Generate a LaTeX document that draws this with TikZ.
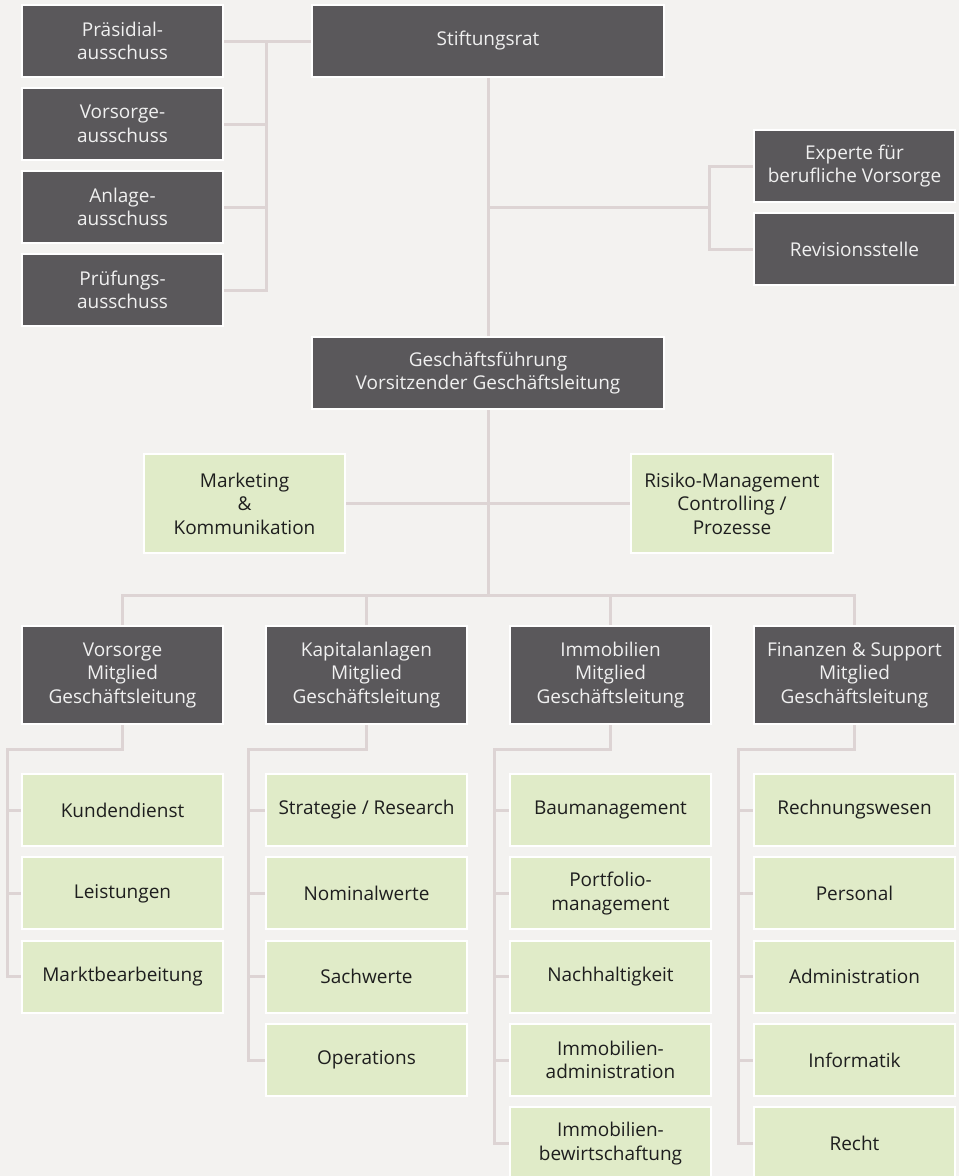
\documentclass[tikz,border=0pt]{standalone}
\usepackage{fontspec}
\setmainfont{Open Sans}
\usetikzlibrary{calc}
\definecolor{bgc}{HTML}{F3F2F0}
\definecolor{darkc}{HTML}{5A585B}
\definecolor{greenc}{HTML}{E0EBC8}
\definecolor{linec}{HTML}{DDD4D4}
\definecolor{darktext}{HTML}{F0F0F0}
\definecolor{greentext}{HTML}{1E1E1E}
\tikzset{
  box/.style={draw=white, line width=2pt, inner sep=0pt, align=center,
    font=\fontsize{19}{23.5}\selectfont, minimum width=201pt, minimum height=72pt},
  darkbox/.style={box, fill=darkc, text=darktext},
  greenbox/.style={box, fill=greenc, text=greentext},
  conn/.style={draw=linec, line width=3pt}
}
\begin{document}
\begin{tikzpicture}[x=1pt,y=-1pt]
\useasboundingbox (0,0) rectangle (959,1176);
\fill[bgc] (0,0) rectangle (959,1176);

% top left committees
\node[darkbox] (praes) at (122.5,41) {Präsidial-\\ausschuss};
\node[darkbox] (vors) at (122.5,124) {Vorsorge-\\ausschuss};
\node[darkbox] (anl) at (122.5,207) {Anlage-\\ausschuss};
\node[darkbox] (pruef) at (122.5,290) {Prüfungs-\\ausschuss};

\node[darkbox, minimum width=352pt] (stift) at (488,41) {Stiftungsrat};
\node[darkbox] (exp) at (854.5,166) {Experte für\\berufliche Vorsorge};
\node[darkbox] (rev) at (854.5,249) {Revisionsstelle};

\node[darkbox, minimum width=352pt] (gf) at (488,373) {Geschäftsführung\\Vorsitzender Geschäftsleitung};

\node[greenbox, minimum height=99pt] (mk) at (244.5,503.5) {Marketing\\\&\\Kommunikation};
\node[greenbox, minimum height=99pt, minimum width=202pt] (risk) at (732,503.5) {Risiko-Management\\Controlling /\\Prozesse};

% managers
\node[darkbox, minimum height=98pt] (m1) at (122.5,675) {Vorsorge\\Mitglied\\Geschäftsleitung};
\node[darkbox, minimum height=98pt] (m2) at (366.5,675) {Kapitalanlagen\\Mitglied\\Geschäftsleitung};
\node[darkbox, minimum height=98pt] (m3) at (610.5,675) {Immobilien\\Mitglied\\Geschäftsleitung};
\node[darkbox, minimum height=98pt] (m4) at (854.5,675) {Finanzen \& Support\\Mitglied\\Geschäftsleitung};

% column 1
\node[greenbox] (c11) at (122.5,810) {Kundendienst};
\node[greenbox] (c12) at (122.5,893.3) {Leistungen};
\node[greenbox] (c13) at (122.5,976.6) {Marktbearbeitung};
% column 2
\node[greenbox] (c21) at (366.5,810) {Strategie / Research};
\node[greenbox] (c22) at (366.5,893.3) {Nominalwerte};
\node[greenbox] (c23) at (366.5,976.6) {Sachwerte};
\node[greenbox] (c24) at (366.5,1060) {Operations};
% column 3
\node[greenbox] (c31) at (610.5,810) {Baumanagement};
\node[greenbox] (c32) at (610.5,893.3) {Portfolio-\\management};
\node[greenbox] (c33) at (610.5,976.6) {Nachhaltigkeit};
\node[greenbox] (c34) at (610.5,1060) {Immobilien-\\administration};
\node[greenbox] (c35) at (610.5,1143.3) {Immobilien-\\bewirtschaftung};
% column 4
\node[greenbox] (c41) at (854.5,810) {Rechnungswesen};
\node[greenbox] (c42) at (854.5,893.3) {Personal};
\node[greenbox] (c43) at (854.5,976.6) {Administration};
\node[greenbox] (c44) at (854.5,1060) {Informatik};
\node[greenbox] (c45) at (854.5,1143.3) {Recht};

% connectors: committees
\coordinate (cv) at (266,41);
\draw[conn] (praes.east) -- (stift.west);
\draw[conn] (cv) -- (cv |- pruef.east) -- (pruef.east);
\draw[conn] (vors.east) -- (cv |- vors.east);
\draw[conn] (anl.east) -- (cv |- anl.east);

% Stiftungsrat -> GF, experts
\draw[conn] (stift.south) -- (gf.north);
\coordinate (ej) at (488,207);
\coordinate (ev) at (709,207);
\draw[conn] (ej) -- (ev);
\draw[conn] (exp.west) -| (ev) |- (rev.west);

% GF -> staff and managers
\coordinate (bus) at (488,595);
\draw[conn] (gf.south) -- (bus);
\draw[conn] (mk.east) -- (risk.west);
\draw[conn] (m1.north) |- (bus) -| (m4.north);
\draw[conn] (m2.north) -- (m2.north |- bus);
\draw[conn] (m3.north) -- (m3.north |- bus);

% columns
\coordinate (s1) at (7,749);
\coordinate (s2) at (248,749);
\coordinate (s3) at (494,749);
\coordinate (s4) at (738,749);
\draw[conn] (m1.south) |- (s1) |- (c13.west);
\draw[conn] (s1 |- c11.west) -- (c11.west);
\draw[conn] (s1 |- c12.west) -- (c12.west);

\draw[conn] (m2.south) |- (s2) |- (c24.west);
\draw[conn] (s2 |- c21.west) -- (c21.west);
\draw[conn] (s2 |- c22.west) -- (c22.west);
\draw[conn] (s2 |- c23.west) -- (c23.west);

\draw[conn] (m3.south) |- (s3) |- (c35.west);
\draw[conn] (s3 |- c31.west) -- (c31.west);
\draw[conn] (s3 |- c32.west) -- (c32.west);
\draw[conn] (s3 |- c33.west) -- (c33.west);
\draw[conn] (s3 |- c34.west) -- (c34.west);

\draw[conn] (m4.south) |- (s4) |- (c45.west);
\draw[conn] (s4 |- c41.west) -- (c41.west);
\draw[conn] (s4 |- c42.west) -- (c42.west);
\draw[conn] (s4 |- c43.west) -- (c43.west);
\draw[conn] (s4 |- c44.west) -- (c44.west);
\end{tikzpicture}
\end{document}
